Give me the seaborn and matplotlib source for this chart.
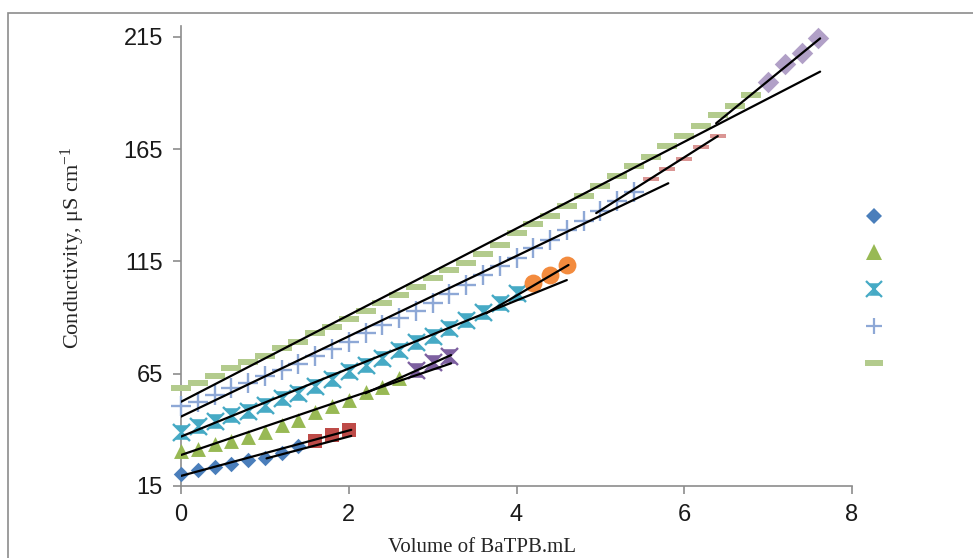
import numpy as np
import pandas as pd
import matplotlib
matplotlib.use("Agg")
import matplotlib.pyplot as plt
from matplotlib.lines import Line2D
from matplotlib.patches import Rectangle
from matplotlib.legend_handler import HandlerTuple
import seaborn as sns

# ---------------- data ----------------
blue_x = [0.0, 0.2, 0.4, 0.6, 0.8, 1.0, 1.2, 1.4]
blue_y = [20.5, 22.0, 23.5, 25.0, 26.5, 27.5, 29.5, 33.0]
red_x = [1.6, 1.8, 2.0]
red_y = [35.0, 37.5, 40.0]

tri_x = [0.0, 0.2, 0.4, 0.6, 0.8, 1.0, 1.2, 1.4, 1.6, 1.8, 2.0, 2.2, 2.4, 2.6]
tri_y = [30.5, 31.5, 33.5, 35.0, 37.0, 39.0, 42.0, 44.5, 48.0, 50.5, 53.5, 57.0, 59.0, 63.0]
pstar_x = [2.8, 3.0, 3.2]
pstar_y = [66.5, 70.0, 73.0]

teal_x = [0.0, 0.2, 0.4, 0.6, 0.8, 1.0, 1.2, 1.4, 1.6, 1.8, 2.0, 2.2, 2.4, 2.6, 2.8,
          3.0, 3.2, 3.4, 3.6, 3.8, 4.0]
teal_y = [39.0, 41.5, 44.0, 46.5, 48.5, 51.0, 54.0, 56.5, 59.5, 62.5, 66.0, 69.0, 72.0,
          75.5, 79.0, 82.0, 85.5, 89.0, 92.5, 96.5, 101.0]
orange_x = [4.2, 4.4, 4.6]
orange_y = [105.5, 109.0, 113.5]

plus_x = [0.0, 0.2, 0.4, 0.6, 0.8, 1.0, 1.2, 1.4, 1.6, 1.8, 2.0, 2.2, 2.4, 2.6, 2.8,
          3.0, 3.2, 3.4, 3.6, 3.8, 4.0, 4.2, 4.4, 4.6, 4.8, 5.0, 5.2, 5.4]
plus_y = [50.5, 52.5, 55.5, 58.5, 61.0, 64.0, 66.5, 69.5, 73.0, 76.0, 79.0, 83.0, 86.5,
          90.0, 93.0, 96.5, 100.5, 104.5, 109.0, 113.0, 116.5, 121.0, 124.5, 129.0,
          133.0, 137.5, 142.0, 146.0]
pink_x = [5.6, 5.8, 6.0, 6.2, 6.4]
pink_y = [151.5, 156.0, 160.5, 166.0, 171.0]

gdash_x = [0.0, 0.2, 0.4, 0.6, 0.8, 1.0, 1.2, 1.4, 1.6, 1.8, 2.0, 2.2, 2.4, 2.6, 2.8,
           3.0, 3.2, 3.4, 3.6, 3.8, 4.0, 4.2, 4.4, 4.6, 4.8, 5.0, 5.2, 5.4, 5.6, 5.8,
           6.0, 6.2, 6.4, 6.6, 6.8]
gdash_y = [58.5, 61.0, 64.0, 67.5, 70.0, 73.0, 76.5, 79.0, 83.0, 86.0, 89.5, 93.0, 96.5,
           100.0, 103.5, 107.5, 111.0, 114.5, 118.5, 122.5, 127.5, 131.5, 135.0, 139.5,
           144.0, 148.5, 153.0, 157.5, 161.5, 166.5, 171.0, 175.5, 180.0, 184.0, 189.0]
pdiam_x = [7.0, 7.2, 7.4, 7.6]
pdiam_y = [195.0, 203.0, 208.0, 214.5]

# fitted straight lines (start/end)
fit_x0 = [0.0, 1.02, 0.0, 2.2, 0.0, 3.64, 0.0, 4.95, 0.0, 6.38]
fit_x1 = [2.03, 2.03, 3.22, 3.22, 4.6, 4.62, 5.81, 6.4, 7.62, 7.62]
fit_y0 = [19.5, 27.3, 28.8, 56.3, 37.0, 91.9, 45.9, 136.5, 52.5, 176.5]
fit_y1 = [40.0, 37.3, 69.6, 73.3, 106.7, 113.4, 149.8, 170.8, 199.5, 214.3]

y_ticks = [15, 65, 115, 165, 215]
x_ticks = [0, 2, 4, 6, 8]

# ---------------- style ----------------
sns.set_style("white")
plt.rcParams["font.family"] = ["Liberation Serif", "DejaVu Serif"]
plt.rcParams["mathtext.fontset"] = "custom"
plt.rcParams["mathtext.rm"] = "Liberation Serif"
plt.rcParams["mathtext.it"] = "Liberation Serif:italic"

DPI = 100
fig = plt.figure(figsize=(9.73, 5.58), dpi=DPI)
W, H = 973, 558
ax_l, ax_r, ax_b, ax_t = 181, 852, 486, 25.6
ax = fig.add_axes([ax_l / W, 1 - ax_b / H, (ax_r - ax_l) / W, (ax_b - ax_t) / H])

dash = [(-1, -0.3), (1, -0.3), (1, 0.3), (-1, 0.3), (-1, -0.3)]
hourglass = [(-0.5, 0.55), (0.5, 0.55), (0, 0), (0.5, -0.55), (-0.5, -0.55), (0, 0),
             (-0.5, 0.55)]

def pts(xs, ys):
    return pd.DataFrame({"v": xs, "k": ys})

def scat(xs, ys, **kw):
    sns.scatterplot(data=pts(xs, ys), x="v", y="k", ax=ax, legend=False,
                    clip_on=False, zorder=3, **kw)

C_BLUE, C_RED, C_GREEN, C_PURP = "#4A7EBB", "#BE4B48", "#98B954", "#7D60A0"
C_TEAL, C_ORNG, C_PLUS, C_PINK = "#46AAC5", "#F38B3E", "#8EA8D6", "#DA9694"
C_GDASH, C_PDIAM = "#B3CB8D", "#B1A0C7"

scat(blue_x, blue_y, marker="D", s=62, color=C_BLUE, linewidth=0)
scat(red_x, red_y, marker="s", s=110, color=C_RED, linewidth=0)
scat(tri_x, tri_y, marker="^", s=115, color=C_GREEN, linewidth=0)
scat(pstar_x, pstar_y, marker=hourglass, s=110, color=C_PURP, linewidth=0)
scat(pstar_x, pstar_y, marker="x", s=150, color=C_PURP, linewidth=1.7)
scat(teal_x, teal_y, marker=hourglass, s=110, color=C_TEAL, linewidth=0)
scat(teal_x, teal_y, marker="x", s=150, color=C_TEAL, linewidth=1.7)
scat(orange_x, orange_y, marker="o", s=165, color=C_ORNG, linewidth=0)
scat(plus_x, plus_y, marker="+", s=200, color=C_PLUS, linewidth=1.7)
scat(pink_x, pink_y, marker=dash, s=140, color=C_PINK, linewidth=0)
scat(gdash_x, gdash_y, marker=dash, s=210, color=C_GDASH, linewidth=0)
scat(pdiam_x, pdiam_y, marker="D", s=120, color=C_PDIAM, linewidth=0)

for x0, x1, y0, y1 in zip(fit_x0, fit_x1, fit_y0, fit_y1):
    sns.lineplot(data=pd.DataFrame({"v": [x0, x1], "k": [y0, y1]}), x="v", y="k",
                 ax=ax, color="black", linewidth=1.6, estimator=None, zorder=4)

ax.set_xlim(0, 8)
ax.set_ylim(15, 220)
ax.set_xticks(x_ticks)
ax.set_yticks(y_ticks)
ax.set_xticklabels([str(t) for t in x_ticks])
ax.set_yticklabels([str(t) for t in y_ticks])

tick_font = ["Liberation Sans Narrow", "Liberation Sans", "DejaVu Sans"]
for lab in ax.get_xticklabels() + ax.get_yticklabels():
    lab.set_family(tick_font)
    lab.set_fontsize(17)
    lab.set_color("#1a1a1a")

gray = "#8c8c8c"
for side in ["top", "right"]:
    ax.spines[side].set_visible(False)
for side in ["left", "bottom"]:
    ax.spines[side].set_color(gray)
    ax.spines[side].set_linewidth(1.2)
ax.tick_params(axis="both", direction="out", length=6, width=1.2, color=gray,
               pad=7, left=True, bottom=True)

ax.set_xlabel("Volume of BaTPB.mL", fontsize=15)
ax.set_ylabel(r"Conductivity, μS cm$^{-1}$", fontsize=16)
ax.xaxis.set_label_coords((482 - ax_l) / (ax_r - ax_l), (ax_b - 538) / (ax_b - ax_t))
ax.yaxis.set_label_coords((87 - ax_l) / (ax_r - ax_l), (ax_b - 248) / (ax_b - ax_t))

# legend (markers only, no text)
def mk(marker, ms, color, mew=0):
    return Line2D([], [], linestyle="none", marker=marker, markersize=ms, color=color,
                  markeredgewidth=mew)

handles = [
    mk("D", 8, C_BLUE),
    mk("^", 11, C_GREEN),
    (mk(hourglass, 9, C_TEAL), mk("x", 11, C_TEAL, 1.6)),
    mk("+", 12, C_PLUS, 1.6),
    mk(dash, 13, C_GDASH),
]
fig.legend(handles, [" "] * 5, loc="center", bbox_to_anchor=(877 / W, 1 - 291 / H),
           frameon=False, fontsize=12, labelspacing=1.25, handlelength=1.2,
           handletextpad=0.1, borderpad=0,
           handler_map={tuple: HandlerTuple(ndivide=1, pad=0)})

# chart-area frame
fig.add_artist(Rectangle((8 / W, -0.2), 2, 1.2 - 13 / H, transform=fig.transFigure,
                         fill=False, edgecolor="#8c8c8c", linewidth=1.2))

fig.savefig("out.png", dpi=DPI)
